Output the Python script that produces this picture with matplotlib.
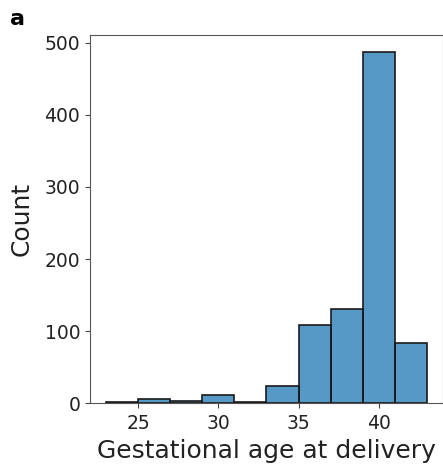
import matplotlib
matplotlib.use("Agg")
import matplotlib.pyplot as plt
import numpy as np

bin_edges = [23, 25, 27, 29, 31, 33, 35, 37, 39, 41, 43]
counts = [1, 5, 3, 11, 2, 24, 109, 131, 487, 84]

fig = plt.figure(figsize=(4.43, 4.66), dpi=100)
ax = fig.add_axes([0.203, 0.135, 0.797, 0.79])
left = np.array(bin_edges[:-1])
widths = np.diff(bin_edges)
ax.bar(left, counts, width=widths, align="edge", color="#1f77b4", alpha=0.75,
       edgecolor="none", linewidth=0)
ax.bar(left, counts, width=widths, align="edge", fill=False,
       edgecolor="#1a1a1a", linewidth=1.2)
ax.set_xlim(22, 44)
ax.set_ylim(0, 511)
ax.set_xticks([25, 30, 35, 40])
ax.set_yticks([0, 100, 200, 300, 400, 500])
ax.tick_params(labelsize=13.5, colors="#444444", labelcolor="#222222")
ax.tick_params(axis="x", pad=4.5)
for s in ax.spines.values():
    s.set_color("#555555")
ax.set_xlabel("Gestational age at delivery", fontsize=18, color="#222222", labelpad=4)
ax.set_ylabel("Count", fontsize=18, color="#222222", labelpad=8)
fig.text(0.022, 0.96, "a", fontsize=16, fontweight="bold", va="center")
fig.savefig("out.png", dpi=100)
